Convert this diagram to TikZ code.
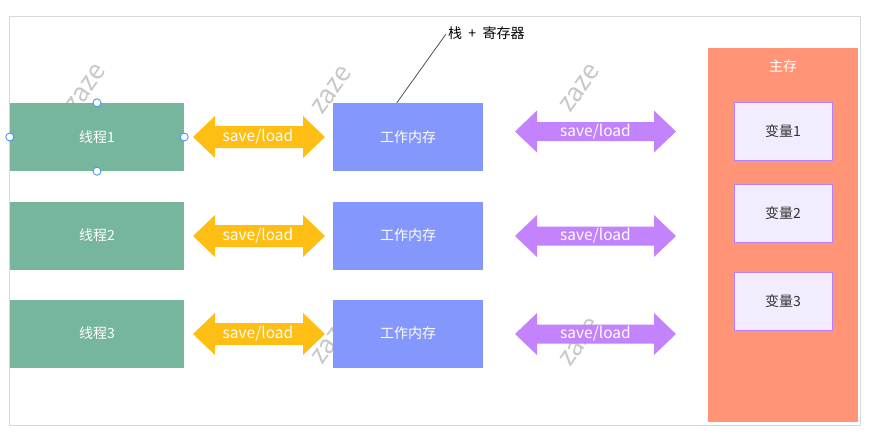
\documentclass[tikz,border=0pt]{standalone}
\usepackage{fontspec}
\setmainfont{Noto Sans CJK SC}
\definecolor{thrgreen}{HTML}{76B69C}
\definecolor{wmblue}{HTML}{8497FD}
\definecolor{arryel}{HTML}{FFBE14}
\definecolor{arrpur}{HTML}{C283FC}
\definecolor{memorange}{HTML}{FF9477}
\definecolor{varfill}{HTML}{F3EBFE}
\definecolor{varborder}{HTML}{B57FFF}
\definecolor{framegray}{HTML}{D9D9D9}
\definecolor{handleblue}{HTML}{3B8CFF}
\definecolor{wmgray}{HTML}{C8C8C8}
\definecolor{vartext}{HTML}{333333}
\begin{document}
\begin{tikzpicture}[x=1pt,y=-1pt,
  basefont/.style={font=\fontsize{14}{16}\selectfont},
  threadbox/.style={basefont,fill=thrgreen,text=white,minimum width=174pt,minimum height=68pt,inner sep=0pt},
  workbox/.style={basefont,fill=wmblue,text=white,minimum width=150pt,minimum height=68pt,inner sep=0pt},
  varbox/.style={basefont,fill=varfill,draw=varborder,line width=0.9pt,text=vartext,minimum width=98pt,minimum height=58pt,inner sep=0pt},
  arrtext/.style={font=\fontsize{15.5}{17}\selectfont,text=white,inner sep=0pt},
  wmark/.style={font=\fontsize{26}{28}\selectfont,text=wmgray,rotate=55},
  handle/.style={circle,draw=handleblue,fill=white,line width=0.8pt,minimum size=8pt,inner sep=0pt},
  ]
\useasboundingbox (0,0) rectangle (877,445);
\draw[framegray,line width=1pt] (9.5,16.5) rectangle (860.5,425.5);

% watermarks
\foreach \x/\y [count=\i] in {86/88, 332/90, 580/88, 332/340, 580/342}
  \node[wmark] (wm\i) at (\x,\y) {zaze};

% main memory
\node[fill=memorange,minimum width=150pt,minimum height=374pt,inner sep=0pt] (mem) at (783,235) {};
\node[basefont,text=white] (memlabel) at (783,66) {主存};
\node[varbox] (v1) at (783,131) {变量1};
\node[varbox] (v2) at (783,213.5) {变量2};
\node[varbox] (v3) at (783,301) {变量3};

% threads and working memory
\node[threadbox] (t1) at (97,137) {线程1};
\node[threadbox] (t2) at (97,235.5) {线程2};
\node[threadbox] (t3) at (97,333.5) {线程3};
\node[workbox] (w1) at (408,137) {工作内存};
\node[workbox] (w2) at (408,235.5) {工作内存};
\node[workbox] (w3) at (408,333.5) {工作内存};

% yellow double arrows
\foreach \yc/\i in {137/1,236/2,334/3} {
  \fill[arryel] (193,\yc) -- (215,\yc-21) -- (215,\yc-11) -- (303,\yc-11) -- (303,\yc-21) -- (325,\yc)
     -- (303,\yc+21) -- (303,\yc+11) -- (215,\yc+11) -- (215,\yc+21) -- cycle;
  \node[arrtext] (ya\i) at (258,\yc) {save/load};
}
% purple double arrows
\foreach \yc/\i in {131.5/1,236/2,334/3} {
  \fill[arrpur] (515,\yc) -- (537,\yc-21) -- (537,\yc-9.5) -- (654,\yc-9.5) -- (654,\yc-21) -- (676,\yc)
     -- (654,\yc+21) -- (654,\yc+9.5) -- (537,\yc+9.5) -- (537,\yc+21) -- cycle;
  \node[arrtext] (pa\i) at (595.5,\yc) {save/load};
}

% selection handles on thread 1
\node[handle] (h1) at (t1.north) {};
\node[handle] (h2) at (t1.south) {};
\node[handle] (h3) at (t1.east) {};
\node[handle] (h4) at (t1.west) {};

% callout
\path (w1.north west) ++(64,0) coordinate (cs);
\node[font=\fontsize{14}{16}\selectfont,inner sep=2pt,anchor=west] (cl) at (446,33) {栈\ \ +\ \ 寄存器};
\draw[black!75,line width=0.7pt] (cs) -- ([yshift=-1pt]cl.west);
\end{tikzpicture}
\end{document}
